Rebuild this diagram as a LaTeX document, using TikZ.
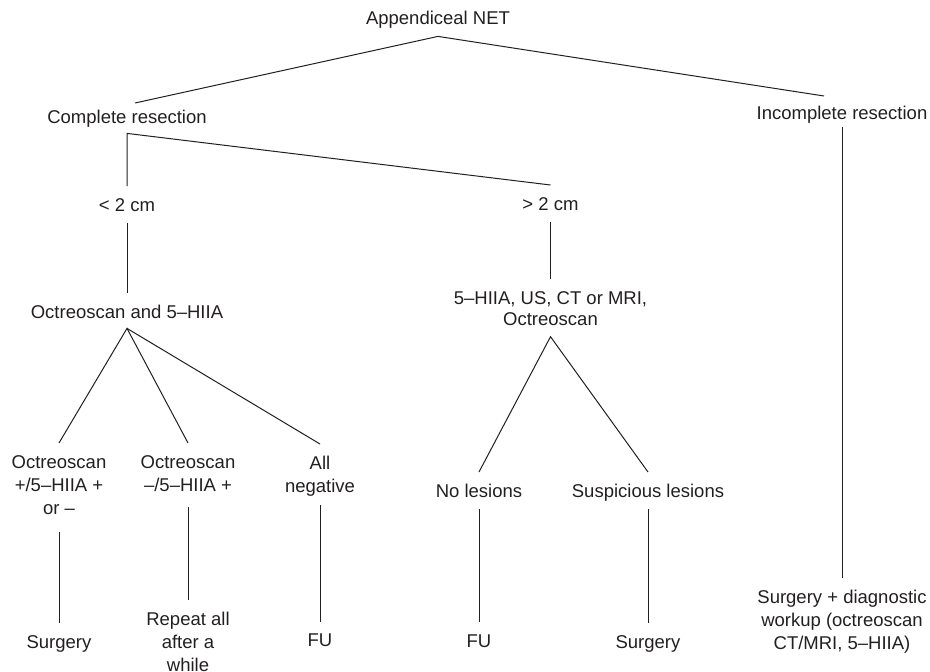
\documentclass[tikz,border=0pt]{standalone}
\usepackage{fontspec}
\setmainfont{Liberation Sans}
\definecolor{ink}{HTML}{231F20}
\newcommand\tst{\rule{0pt}{25.62pt}}
\newcommand\bst{\rule[-11.38pt]{0pt}{11.38pt}}
\begin{document}
\begin{tikzpicture}[x=1pt,y=-1pt,
  lbl/.style={anchor=north, inner sep=0pt, align=center, text=ink,
    font=\fontsize{18.5}{22.7}\selectfont},
  conn/.style={draw=ink, line width=1pt}]
\useasboundingbox (0,0) rectangle (930,672);

% nodes
\node[lbl] (net) at (438,-1)   {\tst Appendiceal NET\bst};
\node[lbl] (cr)  at (127,98)   {\tst Complete resection\bst};
\node[lbl] (ir)  at (842,94)   {\tst Incomplete resection\bst};
\node[lbl] (lt)  at (127,186)  {\tst < 2 cm\bst};
\node[lbl] (gt)  at (550.5,185) {\tst > 2 cm\bst};
\node[lbl] (oc)  at (127,293)  {\tst Octreoscan and 5–HIIA\bst};
\node[lbl] (mr)  at (550.5,279) {\tst 5–HIIA, US, CT or MRI,\\[-2.4pt]Octreoscan\bst};
\node[lbl] (l1)  at (59,443)   {\tst Octreoscan\\+/5–HIIA +\\or –\bst};
\node[lbl] (l2)  at (188,443)  {\tst Octreoscan\\–/5–HIIA +\bst};
\node[lbl] (l3)  at (320,444)  {\tst All\\negative\bst};
\node[lbl] (nl)  at (479,472)  {\tst No lesions\bst};
\node[lbl] (sl)  at (648,472)  {\tst Suspicious lesions\bst};
\node[lbl] (s1)  at (59,623)   {\tst Surgery\bst};
\node[lbl] (ra)  at (188,600)  {\tst Repeat all\\after a\\while\bst};
\node[lbl] (fu1) at (320,621)  {\tst FU\bst};
\node[lbl] (fu2) at (479,622)  {\tst FU\bst};
\node[lbl] (s2)  at (648,623)  {\tst Surgery\bst};
\node[lbl] (sd)  at (842,578)  {\tst Surgery + diagnostic\\workup (octreoscan\\CT/MRI, 5–HIIA)\bst};

% connectors
\draw[conn] ([xshift=8pt,yshift=-5pt]cr.north) -- (net.south) -- ([xshift=-18pt,yshift=-2pt]ir.north);
\draw[conn] (lt.north) -- ([yshift=2pt]cr.south) -- (gt.north);
\draw[conn] ([yshift=4pt]ir.south) -- (sd.north);
\draw[conn] (lt.south) -- (oc.north);
\draw[conn] (gt.south) -- (mr.north);
\draw[conn] (l1.north) -- ([yshift=2pt]oc.south) -- (l2.north);
\draw[conn] ([yshift=2pt]oc.south) -- (l3.north);
\draw[conn] (nl.north) -- (mr.south) -- (sl.north);
\draw[conn] ([yshift=-6.5pt]l1.south) -- (s1.north);
\draw[conn] ([yshift=-4pt]l2.south) -- (ra.north);
\draw[conn] ([yshift=-1pt]l3.south) -- ([yshift=-1pt]fu1.north);
\draw[conn] (nl.south) -- (fu2.north);
\draw[conn] (sl.south) -- (s2.north);
\end{tikzpicture}
\end{document}
